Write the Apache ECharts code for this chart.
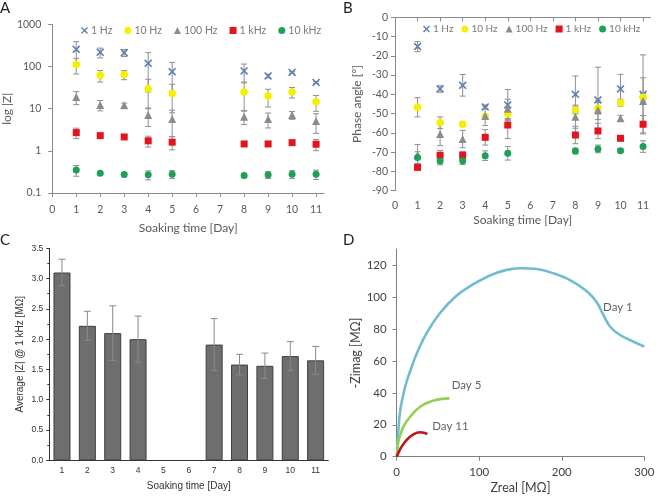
<!DOCTYPE html>
<html><head><meta charset="utf-8">
<script src="https://cdn.jsdelivr.net/npm/echarts@6/dist/echarts.min.js"></script>
<style>html,body{margin:0;padding:0;background:#fff}#c{width:660px;height:498px}</style>
</head><body><div id="c"></div>
<script>
// ---------- DATA ----------
const days = [1, 2, 3, 4, 5, 8, 9, 10, 11];
const dayTicks = [0, 1, 2, 3, 4, 5, 6, 7, 8, 9, 10, 11];
const freqNames = ['1 Hz', '10 Hz', '100 Hz', '1 kHz', '10 kHz'];

// Panel A: |Z| (log)
const zMag1Hz      = [257, 218, 214, 120, 76, 79, 60, 73, 42];
const zMag1HzErr   = [135, 57, 40, 95, 50, 36, 6, 3, 2];
const zMag10Hz     = [112, 62, 65, 30, 23, 25, 20, 25, 14.7];
const zMag10HzErr  = [45, 19, 16, 20, 15, 16, 9, 7, 6];
const zMag100Hz    = [19, 12.3, 12.1, 7.1, 5.7, 6.5, 5.7, 7.1, 5.1];
const zMag100HzErr = [6.5, 3.4, 1.5, 3.3, 3.5, 2.3, 2.2, 1.5, 2.5];
const zMag1kHz     = [2.71, 2.3, 2.14, 1.73, 1.61, 1.46, 1.46, 1.57, 1.44];
const zMag1kHzErr  = [0.75, 0.15, 0.12, 0.5, 0.55, 0.12, 0.15, 0.15, 0.43];
const zMag10kHz    = [0.35, 0.296, 0.275, 0.27, 0.28, 0.26, 0.27, 0.28, 0.28];
const zMag10kHzErr = [0.1, 0.02, 0.03, 0.065, 0.06, 0.02, 0.05, 0.06, 0.07];
const zMagTicks = [0.1, 1, 10, 100, 1000];

// Panel B: phase angle
const phase1Hz      = [-15.2, -37.2, -35.3, -46.5, -45.5, -40, -42.9, -37.2, -40];
const phase1HzErr   = [2.6, 1.7, 5.6, 1, 8, 9.5, 17, 7.6, 20.5];
const phase10Hz     = [-46.7, -54.7, -55.5, -51.5, -50, -48.1, -47.2, -44.3, -41.5];
const phase10HzErr  = [5, 3, 1.2, 1, 3, 2, 3, 1.8, 2];
const phase100Hz    = [-71.5, -60.6, -63.2, -51.2, -47.5, -51.6, -48.1, -52.4, -43.4];
const phase100HzErr = [5.5, 6, 4.5, 5, 5, 6, 5, 1.5, 12];
const phase1kHz     = [-77.9, -71.6, -71.6, -62.3, -55.9, -61.1, -59, -62.8, -55.5];
const phase1kHzErr  = [1, 2.5, 2, 4, 7, 4.5, 4, 1, 4.5];
const phase10kHz    = [-72.8, -74.6, -74.4, -71.8, -70.6, -69.4, -68.3, -69.2, -67.1];
const phase10kHzErr = [3, 2, 2, 2.5, 3.5, 1.5, 2, 1, 3];

// Panel C: average |Z| @ 1 kHz
const barDays = ['1', '2', '3', '4', '5', '6', '7', '8', '9', '10', '11'];
const avgZ1kHz    = [3.1, 2.22, 2.1, 2.0, null, null, 1.91, 1.58, 1.56, 1.72, 1.65];
const avgZ1kHzErr = [0.22, 0.24, 0.45, 0.38, null, null, 0.43, 0.17, 0.21, 0.24, 0.23];

// Panel D: Nyquist curves
const day1Zreal  = [0.5, 2, 4, 8, 12, 18, 24.2, 36.4, 52.5, 72.7, 92.9, 113, 133, 150, 170, 190, 210, 230, 242, 250.5, 258.6, 270.7, 287, 300];
const day1Zimag  = [5, 16, 28, 39, 47, 56, 64.5, 77.5, 90, 101, 108, 113.5, 117, 118, 117.5, 114.8, 110.6, 103.8, 97, 88.7, 81.4, 76.2, 72, 69];
const day5Zreal  = [0, 2, 5, 8.1, 16.2, 28.3, 44.4, 55, 63.8];
const day5Zimag  = [0, 9.4, 14.5, 18.8, 25, 31.3, 35.1, 36.2, 36.5];
const day11Zreal = [0, 3, 6, 12.1, 20.2, 28.3, 33, 37.1];
const day11Zimag = [0, 3.5, 6.3, 10.5, 14, 15.3, 15, 14.2];
const curveNames = ['Day 1', 'Day 5', 'Day 11'];
const curveLabelAt = [[250, 93.5], [66.6, 44.5], [43.1, 18.8]];

// ---------- STYLE ----------
const XPATH = 'path://M1.4,0 L5,3.6 L8.6,0 L10,1.4 L6.4,5 L10,8.6 L8.6,10 L5,6.4 L1.4,10 L0,8.6 L3.6,5 L0,1.4 Z';
const freqColors = ['#5b7fb3', '#f5f000', '#8c8c8c', '#e3141b', '#1ea055'];
const freqSymbols = [XPATH, 'circle', 'triangle', 'rect', 'circle'];
const freqSizes = [8, 7.5, 8, 7, 7];
const FONT = 'Lato';
const GRAY = '#595959';

function errRender(capHalf, color, lw) {
  return function (params, api) {
    const x = api.value(0), lo = api.value(1), hi = api.value(2);
    const a = api.coord([x, lo]), b = api.coord([x, hi]);
    const st = { stroke: color, lineWidth: lw };
    return { type: 'group', children: [
      { type: 'line', shape: { x1: a[0], y1: a[1], x2: b[0], y2: b[1] }, style: st },
      { type: 'line', shape: { x1: a[0] - capHalf, y1: a[1], x2: a[0] + capHalf, y2: a[1] }, style: st },
      { type: 'line', shape: { x1: b[0] - capHalf, y1: b[1], x2: b[0] + capHalf, y2: b[1] }, style: st }
    ]};
  };
}

const aVals = [zMag1Hz, zMag10Hz, zMag100Hz, zMag1kHz, zMag10kHz];
const aErrs = [zMag1HzErr, zMag10HzErr, zMag100HzErr, zMag1kHzErr, zMag10kHzErr];
const bVals = [phase1Hz, phase10Hz, phase100Hz, phase1kHz, phase10kHz];
const bErrs = [phase1HzErr, phase10HzErr, phase100HzErr, phase1kHzErr, phase10kHzErr];

const series = [];
function addPanel(vals, errs, axisIdx) {
  vals.forEach((v, k) => {
    series.push({
      type: 'custom', name: 'err' + axisIdx + k, xAxisIndex: axisIdx, yAxisIndex: axisIdx,
      renderItem: errRender(3, '#8f8f8f', 1), z: 1, silent: true,
      encode: { x: 0, y: [1, 2] },
      data: days.map((d, i) => [d, v[i] - errs[k][i], v[i] + errs[k][i]])
    });
  });
  vals.forEach((v, k) => {
    series.push({
      type: 'scatter', name: freqNames[k], xAxisIndex: axisIdx, yAxisIndex: axisIdx, z: 3,
      symbol: freqSymbols[k], symbolSize: freqSizes[k],
      itemStyle: { color: freqColors[k], opacity: 1 },
      data: days.map((d, i) => [d, v[i]])
    });
  });
}
addPanel(aVals, aErrs, 0);
addPanel(bVals, bErrs, 1);

// Panel C
series.push({
  type: 'bar', name: 'avg', xAxisIndex: 2, yAxisIndex: 2, barWidth: 17,
  itemStyle: { color: '#6e6e6e', borderColor: '#3f3f3f', borderWidth: 1 },
  data: avgZ1kHz.map(v => v == null ? '-' : v)
});
series.push({
  type: 'custom', name: 'avgErr', xAxisIndex: 2, yAxisIndex: 2, z: 5, silent: true,
  renderItem: errRender(3.5, '#8a8a8a', 1),
  encode: { x: 0, y: [1, 2] },
  data: avgZ1kHz.map((v, i) => v == null ? null : [i, v - avgZ1kHzErr[i], v + avgZ1kHzErr[i]]).filter(d => d)
});

// Panel D
const curves = [[day1Zreal, day1Zimag, '#72bcd0'], [day5Zreal, day5Zimag, '#92d050'], [day11Zreal, day11Zimag, '#c0141a']];
curves.forEach((c, k) => {
  series.push({
    type: 'line', name: curveNames[k], xAxisIndex: 3, yAxisIndex: 3, smooth: 0.4,
    showSymbol: false, symbol: 'none', lineStyle: { color: c[2], width: 2.6 },
    data: c[0].map((x, i) => [x, c[1][i]])
  });
});
series.push({
  type: 'scatter', name: 'curveLabels', xAxisIndex: 3, yAxisIndex: 3, symbolSize: 0, silent: true,
  label: { show: true, position: 'right', distance: 0, formatter: '{b}', fontFamily: FONT, fontSize: 11.5, color: '#3a3a3a' },
  data: curveLabelAt.map((p, k) => ({ name: curveNames[k], value: p }))
});

function abAxisX(gi) {
  return {
    type: 'value', gridIndex: gi, min: 0, max: 11.33,
    name: 'Soaking time [Day]', nameLocation: 'middle', nameGap: gi === 0 ? 29 : 23,
    nameTextStyle: { fontFamily: FONT, fontSize: 12, color: GRAY },
    axisLine: { lineStyle: { color: '#8a8a8a' } },
    axisTick: { show: true, length: 4, lineStyle: { color: '#8a8a8a' }, customValues: dayTicks },
    axisLabel: { customValues: dayTicks, fontFamily: FONT, fontSize: 10.5, color: GRAY, margin: gi === 0 ? 11 : 9 },
    splitLine: { show: false }
  };
}

const legendData = freqNames.map((n, k) => ({ name: n, icon: freqSymbols[k] }));
function legendCfg(left, top, fs, gap) {
  return {
    left: left, top: top, width: 250, orient: 'horizontal',
    itemWidth: 7, itemHeight: 7, itemGap: gap, selectedMode: false,
    textStyle: { fontFamily: FONT, fontSize: fs, color: '#7a7a7a', padding: [0, 0, 0, -2] },
    data: legendData
  };
}

const option = {
  animation: false,
  backgroundColor: '#fff',
  textStyle: { fontFamily: FONT },
  grid: [
    { left: 46.5, top: 24.5, width: 277.5, height: 168.5 },
    { left: 395, top: 17.3, width: 255.5, height: 173.4 },
    { left: 49.3, top: 248.3, width: 279, height: 212 },
    { left: 396.7, top: 249.1, width: 247.6, height: 207.6 }
  ],
  legend: [legendCfg(76, 20, 10.5, 12), legendCfg(418, 19, 10, 8)],
  xAxis: [
    abAxisX(0),
    abAxisX(1),
    {
      type: 'category', gridIndex: 2, data: barDays,
      name: 'Soaking time [Day]', nameLocation: 'middle', nameGap: 21,
      nameTextStyle: { fontFamily: 'Liberation Sans', fontSize: 10, color: '#333' },
      axisLine: { lineStyle: { color: '#333' } },
      axisTick: { alignWithLabel: true, length: 3, lineStyle: { color: '#333' } },
      axisLabel: { fontFamily: 'Liberation Sans', fontSize: 8.5, color: '#333', margin: 6 }
    },
    {
      type: 'value', gridIndex: 3, min: 0, max: 300, interval: 100,
      name: 'Zreal [MΩ]', nameLocation: 'middle', nameGap: 25,
      nameTextStyle: { fontFamily: FONT, fontSize: 12.5, color: '#404040' },
      axisLine: { lineStyle: { color: '#7f7f7f' } },
      axisTick: { length: 4, lineStyle: { color: '#7f7f7f' } },
      axisLabel: { fontFamily: FONT, fontSize: 11.5, color: '#404040', margin: 10 },
      splitLine: { show: false }
    }
  ],
  yAxis: [
    {
      type: 'log', logBase: 10, gridIndex: 0, min: 0.1, max: 1000,
      name: 'log |Z|', nameLocation: 'middle', nameGap: 32,
      nameTextStyle: { fontFamily: FONT, fontSize: 12, color: GRAY },
      axisLine: { show: true, lineStyle: { color: '#8a8a8a' } },
      axisTick: { show: true, length: 4, lineStyle: { color: '#8a8a8a' } },
      axisLabel: { fontFamily: FONT, fontSize: 10.5, color: GRAY, margin: 11,
        formatter: v => String(zMagTicks.find(t => Math.abs(Math.log10(t) - Math.log10(v)) < 1e-6) ?? v) },
      splitLine: { show: false }
    },
    {
      type: 'value', gridIndex: 1, min: -90, max: 0, interval: 10,
      name: 'Phase angle [°]', nameLocation: 'middle', nameGap: 32,
      nameTextStyle: { fontFamily: FONT, fontSize: 12, color: GRAY },
      axisLine: { show: true, lineStyle: { color: '#8a8a8a' } },
      axisTick: { show: true, length: 4, lineStyle: { color: '#8a8a8a' } },
      axisLabel: { fontFamily: FONT, fontSize: 10.5, color: GRAY, margin: 7 },
      splitLine: { show: false }
    },
    {
      type: 'value', gridIndex: 2, min: 0, max: 3.5, interval: 0.5,
      name: 'Average |Z| @ 1 kHz [MΩ]', nameLocation: 'middle', nameGap: 24,
      nameTextStyle: { fontFamily: 'Liberation Sans', fontSize: 10, color: '#333' },
      axisLine: { show: true, lineStyle: { color: '#333' } },
      axisTick: { show: true, length: 3, lineStyle: { color: '#333' } },
      minorTick: { show: true, splitNumber: 2, length: 2, lineStyle: { color: '#333' } },
      axisLabel: { fontFamily: 'Liberation Sans', fontSize: 8.5, color: '#333', margin: 6, formatter: v => v.toFixed(1) },
      splitLine: { show: false }
    },
    {
      type: 'value', gridIndex: 3, min: 0, max: 130,
      name: '-Zimag [MΩ]', nameLocation: 'middle', nameGap: 29,
      nameTextStyle: { fontFamily: FONT, fontSize: 12.5, color: '#404040' },
      axisLine: { show: true, lineStyle: { color: '#7f7f7f' } },
      axisTick: { show: true, length: 4, lineStyle: { color: '#7f7f7f' }, customValues: [0, 20, 40, 60, 80, 100, 120] },
      axisLabel: { fontFamily: FONT, fontSize: 11.5, color: '#404040', margin: 10, customValues: [0, 20, 40, 60, 80, 100, 120] },
      splitLine: { show: false }
    }
  ],
  graphic: [
    { type: 'text', left: 0, top: 1, style: { text: 'A', font: '15px Lato', fill: '#222' } },
    { type: 'text', left: 343, top: 1, style: { text: 'B', font: '15px Lato', fill: '#222' } },
    { type: 'text', left: 0, top: 233, style: { text: 'C', font: '15px Lato', fill: '#222' } },
    { type: 'text', left: 343, top: 233, style: { text: 'D', font: '15px Lato', fill: '#222' } }
  ],
  series: series
};

const chart = echarts.init(document.getElementById('c'), null, { width: 660, height: 498 });
chart.setOption(option);
</script>
</body></html>
